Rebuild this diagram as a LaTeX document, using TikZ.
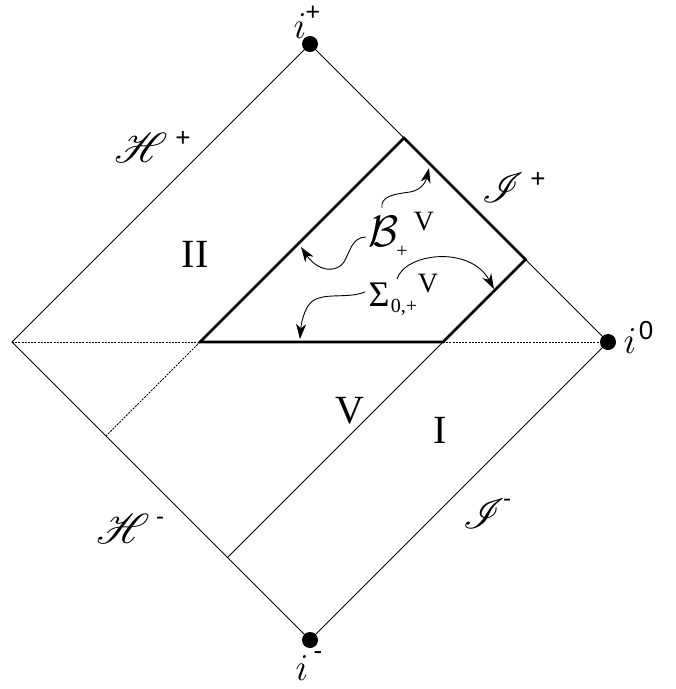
\RequirePackage{fix-cm}
\documentclass[tikz,border=0pt]{standalone}
\usepackage{fontspec}
\setmainfont{Liberation Serif}
\newfontfamily\supfont{Liberation Sans}
\usepackage{mathrsfs}
\DeclareFontFamily{U}{rsfs}{\skewchar\font127 }
\DeclareFontShape{U}{rsfs}{m}{n}{<-> rsfs10}{}
\usetikzlibrary{arrows.meta,calc}
\begin{document}
\begin{tikzpicture}[x=1pt,y=-1pt,
  thinline/.style={line width=0.8pt},
  thickline/.style={line width=2.6pt,line join=miter},
  dotline/.style={line width=0.8pt,dash pattern=on 2pt off 1.2pt},
  dot/.style={circle,fill=black,inner sep=0pt,minimum size=16pt},
  wavy/.style={line width=0.9pt,-{Stealth[length=15pt,width=10pt,inset=4.5pt]}},
  fs/.style={font=\fontsize{#1}{#1}\selectfont,inner sep=0pt}]
\useasboundingbox (0,0) rectangle (676,689);
% diamond vertices
\coordinate (T) at (310,44);
\coordinate (R) at (608,342);
\coordinate (Bt) at (310,640);
\coordinate (L) at (12,342);
% region corners
\coordinate (P1) at (200,342);
\coordinate (P1b) at (190,352);
\coordinate (P1c) at (210,332);
\coordinate (P2) at (intersection of P1--P1c and T--R);
\coordinate (P4) at (443,342);
\coordinate (P4b) at (433,352);
\coordinate (P4c) at (453,332);
\coordinate (P3) at (intersection of P4--P4c and T--R);
\coordinate (Q1) at (intersection of P1--P1b and L--Bt);
\coordinate (Q2) at (intersection of P4--P4b and L--Bt);
% outer diamond
\draw[thinline] (T) -- (R) -- (Bt) -- (L) -- cycle;
% dotted lines
\draw[dotline] (L) -- (P1);
\draw[dotline] (P4) -- (R);
\draw[dotline] (P1) -- (Q1);
% V line
\draw[thinline] (P4) -- (Q2);
% thick region
\draw[thickline] (P1) -- (P2) -- (P3) -- (P4) -- cycle;
% dots
\node[dot] (dT) at (T) {};
\node[dot] (dR) at (R) {};
\node[dot] (dB) at (Bt) {};
% vertex labels
\node[fs=38] (ip) at (300,26) {$i$};
\node[fs=25] (ipp) at (313,13) {\supfont +};
\node[fs=38] (i0) at (630,341) {$i$};
\node[fs=26] (i0s) at (646,331) {\supfont 0};
\node[fs=38] (im) at (302,668) {$i$};
\node[fs=26] (ims) at (318,656) {\supfont -};
% scri labels
\node[fs=42] (Hp) at (141,148) {$\mathscr{H}$};
\node[fs=26] (Hps) at (183,139) {\supfont +};
\node[fs=42] (Ip) at (503,188) {$\mathscr{I}$};
\node[fs=26] (Ips) at (538,180) {\supfont +};
\node[fs=42] (Hm) at (123,529) {$\mathscr{H}$};
\node[fs=24] (Hms) at (160,521) {\supfont -};
\node[fs=42] (Im) at (484,514) {$\mathscr{I}$};
\node[fs=24] (Ims) at (507,503) {\supfont -};
% region labels
\node[fs=40] (II) at (195,254) {II};
\node[fs=40] (Vr) at (350,411) {V};
\node[fs=40] (Ir) at (440,430) {I};
% B label
\node[fs=44] (Bc) at (384,231) {$\mathcal{B}$};
\node[fs=20] (Bsub) at (402,252) {+};
\node[fs=28] (BV) at (424,222) {V};
% Sigma label
\node[fs=36] (Sig) at (379,295) {Σ};
\node[fs=20] (Ssub) at (404,307) {0,+};
\node[fs=28] (SV) at (428,284) {V};
% wavy arrows
\coordinate (a1s) at (382,208);
\coordinate (a1e) at (429,168);
\draw[wavy] (a1s) .. controls (380,196) and (395,194) .. (410,192)
  .. controls (422,190) and (426,181) .. (a1e);
\coordinate (a2s) at (366,237);
\coordinate (a2e) at (301,247);
\draw[wavy] (a2s) .. controls (352,237) and (350,252) .. (344,262)
  .. controls (337,273) and (318,272) .. (a2e);
\coordinate (a3s) at (397,279);
\coordinate (a3e) at (494,289);
\draw[wavy] (a3s) .. controls (405,253) and (470,245) .. (a3e);
\coordinate (a4s) at (365,292);
\coordinate (a4e) at (300,339);
\draw[wavy] (a4s) .. controls (345,300) and (318,290) .. (308,306)
  .. controls (303,314) and (301,325) .. (a4e);
\end{tikzpicture}
\end{document}
